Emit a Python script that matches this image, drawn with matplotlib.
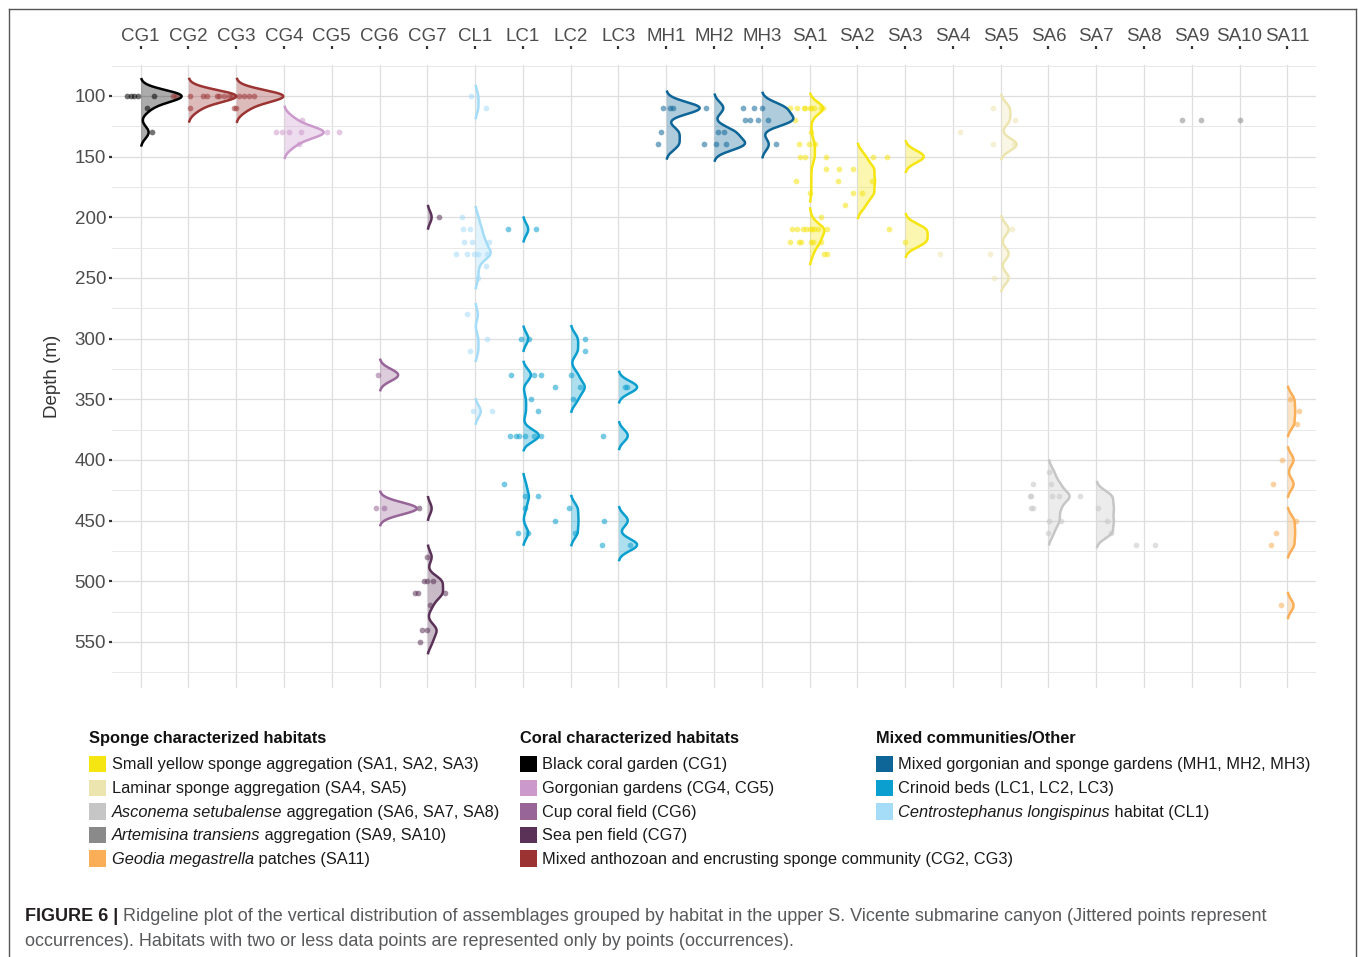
import numpy as np
import matplotlib
matplotlib.use("Agg")
import matplotlib.pyplot as plt
from matplotlib.patches import Rectangle
from matplotlib.lines import Line2D

# ---------------- data ----------------
categories = ["CG1", "CG2", "CG3", "CG4", "CG5", "CG6", "CG7", "CL1", "LC1", "LC2", "LC3",
              "MH1", "MH2", "MH3", "SA1", "SA2", "SA3", "SA4", "SA5", "SA6", "SA7", "SA8",
              "SA9", "SA10", "SA11"]

# depths (m) of occurrences per assemblage, and horizontal jitter
depth_CG1 = [100, 100, 100, 100, 100, 110, 130]
jit_CG1 = [-0.29, -0.21, -0.15, -0.06, 0.27, 0.13, 0.23]
depth_CG2 = [100, 100, 100, 100, 100, 110]
jit_CG2 = [-0.33, -0.27, 0.04, 0.31, 0.38, 0.04]
depth_CG3 = [100, 100, 100, 100, 100, 100, 100, 100, 100, 110, 110]
jit_CG3 = [-0.40, -0.36, -0.25, -0.15, -0.08, 0.06, 0.17, 0.27, 0.38, -0.04, 0.0]
depth_CG4 = [120, 130, 130, 130, 130, 140]
jit_CG4 = [0.38, -0.17, -0.04, 0.10, 0.36, 0.31]
depth_CG5 = [130, 130]
jit_CG5 = [-0.10, 0.15]
depth_CG6 = [330, 440, 440]
jit_CG6 = [-0.04, -0.07, 0.10]
depth_CG7 = [200, 440, 480, 500, 500, 500, 510, 510, 510, 520, 540, 540, 550]
jit_CG7 = [0.24, -0.17, 0.0, -0.08, -0.01, 0.11, -0.25, -0.20, 0.38, 0.06, -0.11, -0.01, -0.15]
depth_CL1 = [100, 110, 200, 210, 210, 220, 220, 220, 230, 230, 230, 230, 230, 240, 250,
             280, 300, 310, 360, 360]
jit_CL1 = [-0.09, 0.22, -0.27, -0.25, -0.11, -0.24, -0.07, 0.30, -0.40, -0.18, -0.02, 0.05,
           0.24, 0.23, 0.05, -0.18, 0.24, -0.10, -0.05, 0.36]
depth_LC1 = [210, 210, 300, 300, 330, 330, 330, 350, 360, 380, 380, 380, 380, 380, 380,
             420, 430, 430, 440, 460, 460]
jit_LC1 = [-0.31, 0.27, -0.05, 0.13, -0.24, 0.23, 0.38, 0.18, 0.31, -0.27, -0.15, -0.08,
           0.05, 0.24, 0.38, -0.40, 0.04, 0.32, 0.04, -0.11, 0.10]
depth_LC2 = [300, 310, 330, 340, 340, 350, 440, 450, 460]
jit_LC2 = [0.29, 0.31, 0.01, -0.32, 0.20, 0.05, -0.04, -0.32, 0.10]
depth_LC3 = [340, 340, 380, 450, 470, 470]
jit_LC3 = [0.13, 0.18, -0.33, -0.31, -0.35, 0.24]
depth_MH1 = [110, 110, 110, 130, 140]
jit_MH1 = [-0.06, 0.08, 0.15, -0.10, -0.18]
depth_MH2 = [110, 130, 130, 140, 140, 140]
jit_MH2 = [-0.17, 0.09, 0.21, -0.21, 0.04, 0.25]
depth_MH3 = [110, 110, 110, 120, 120, 120, 120, 140]
jit_MH3 = [-0.40, -0.17, 0.01, -0.35, -0.24, -0.08, 0.13, 0.30]
depth_SA1 = [110, 110, 110, 110, 110, 110, 110, 110, 110, 120, 130, 140, 140, 140,
             150, 150, 150, 160, 170, 180, 200, 210, 210, 210, 210, 210, 210, 210, 210,
             210, 220, 220, 220, 220, 220, 220, 230, 230]
jit_SA1 = [-0.40, -0.26, -0.11, -0.09, 0.04, 0.10, 0.23, 0.29, 0.0, -0.30, 0.04, -0.23,
           -0.02, 0.12, -0.21, -0.10, 0.35, 0.35, -0.29, 0.0, 0.24, -0.37, -0.27,
           -0.13, -0.07, 0.05, 0.17, 0.36, 0.0, 0.10, -0.40, -0.23, -0.18, 0.02, 0.24,
           0.08, 0.36, 0.31]
depth_SA2 = [150, 160, 160, 170, 170, 180, 180, 190]
jit_SA2 = [0.33, -0.38, -0.10, -0.40, 0.30, 0.09, -0.10, -0.25]
depth_SA3 = [150, 210, 220]
jit_SA3 = [-0.38, -0.33, 0.0]
depth_SA4 = [130, 230]
jit_SA4 = [0.14, -0.26]
depth_SA5 = [110, 120, 140, 140, 210, 230, 250]
jit_SA5 = [-0.17, 0.31, -0.16, 0.28, 0.24, -0.22, -0.13]
depth_SA6 = [410, 420, 420, 430, 430, 430, 430, 440, 440, 450, 450, 460]
jit_SA6 = [0.01, -0.33, 0.05, -0.39, -0.37, 0.07, 0.23, -0.37, -0.33, 0.02, 0.27, 0.0]
depth_SA7 = [430, 440, 450, 460]
jit_SA7 = [-0.34, 0.04, 0.23, 0.31]
depth_SA8 = [470, 470]
jit_SA8 = [-0.16, 0.22]
depth_SA9 = [120, 120]
jit_SA9 = [-0.20, 0.20]
depth_SA10 = [120]
jit_SA10 = [0.0]
depth_SA11 = [350, 360, 370, 400, 420, 450, 460, 470, 520]
jit_SA11 = [0.06, 0.25, 0.21, -0.11, -0.29, 0.18, -0.24, -0.35, -0.13]

depth_ticks = [100, 150, 200, 250, 300, 350, 400, 450, 500, 550]

# habitats: legend groups
sponge_labels = [
    [("Small yellow sponge aggregation (SA1, SA2, SA3)", "normal")],
    [("Laminar sponge aggregation (SA4, SA5)", "normal")],
    [("Asconema setubalense", "italic"), (" aggregation (SA6, SA7, SA8)", "normal")],
    [("Artemisina transiens", "italic"), (" aggregation (SA9, SA10)", "normal")],
    [("Geodia megastrella", "italic"), (" patches (SA11)", "normal")],
]
sponge_colors = ["#F5E511", "#EDE5B0", "#C6C6C6", "#8A8A8A", "#F9AE57"]
coral_labels = [
    [("Black coral garden (CG1)", "normal")],
    [("Gorgonian gardens (CG4, CG5)", "normal")],
    [("Cup coral field (CG6)", "normal")],
    [("Sea pen field (CG7)", "normal")],
    [("Mixed anthozoan and encrusting sponge community (CG2, CG3)", "normal")],
]
coral_colors = ["#000000", "#CC99CC", "#976597", "#5A3257", "#9C3333"]
mixed_labels = [
    [("Mixed gorgonian and sponge gardens (MH1, MH2, MH3)", "normal")],
    [("Crinoid beds (LC1, LC2, LC3)", "normal")],
    [("Centrostephanus longispinus", "italic"), (" habitat (CL1)", "normal")],
]
mixed_colors = ["#0E6597", "#0A9FCF", "#A5DCF8"]

cat_color = {
    "CG1": coral_colors[0], "CG2": coral_colors[4], "CG3": coral_colors[4],
    "CG4": coral_colors[1], "CG5": coral_colors[1], "CG6": coral_colors[2],
    "CG7": coral_colors[3], "CL1": mixed_colors[2],
    "LC1": mixed_colors[1], "LC2": mixed_colors[1], "LC3": mixed_colors[1],
    "MH1": mixed_colors[0], "MH2": mixed_colors[0], "MH3": mixed_colors[0],
    "SA1": sponge_colors[0], "SA2": sponge_colors[0], "SA3": sponge_colors[0],
    "SA4": sponge_colors[1], "SA5": sponge_colors[1],
    "SA6": sponge_colors[2], "SA7": sponge_colors[2], "SA8": sponge_colors[2],
    "SA9": sponge_colors[3], "SA10": sponge_colors[3], "SA11": sponge_colors[4],
}

g = globals()
depths = {c: g["depth_" + c] for c in categories}
jitters = {c: g["jit_" + c] for c in categories}

# ---------------- figure ----------------
W, H = 1358, 957
DPI = 100
plt.rcParams["font.family"] = ["Liberation Sans", "DejaVu Sans"]
fig = plt.figure(figsize=(W / DPI, H / DPI), dpi=DPI)
fig.patch.set_facecolor("white")

def fx(x):
    return x / W

def fy(y):
    return 1 - y / H

# panel: x 112..1316, y 65..688 (pixels)
ax = fig.add_axes([fx(112), fy(688), fx(1316) - fx(112), fy(65) - fy(688)])
ax.set_facecolor("white")
ax.set_xlim(-0.6, len(categories) - 1 + 0.6)
ax.set_ylim(588, 74.5)

for s in ax.spines.values():
    s.set_visible(False)
ax.spines["top"].set_position(("outward", 11.5))

ax.set_xticks(range(len(categories)))
ax.set_xticklabels(categories)
ax.xaxis.tick_top()
ax.set_yticks(depth_ticks)
ax.set_yticks(np.arange(75, 600, 50), minor=True)
ax.tick_params(axis="x", which="major", length=2.3, width=1.6, color="#333333",
               labelsize=13.5, labelcolor="#4D4D4D", pad=0.6)
ax.tick_params(axis="y", which="major", length=2.2, width=1.6, color="#333333",
               labelsize=13.5, labelcolor="#4D4D4D", pad=2)
ax.tick_params(axis="y", which="minor", length=0)
ax.grid(True, which="major", color="#DEDEDE", lw=0.9)
ax.grid(True, which="minor", axis="y", color="#E8E8E8", lw=0.7)
ax.set_axisbelow(True)
ax.set_ylabel("Depth (m)", fontsize=13.5, color="#333333", labelpad=10)

# ---------------- ridgelines (Gaussian KDE, joint bandwidth) ----------------
BW = 5.0
REL_MIN = 0.01
HEIGHT = 1.0
grid = np.linspace(60, 600, 2161)

def kde(vals):
    v = np.asarray(vals, float)
    z = (grid[:, None] - v[None, :]) / BW
    return np.exp(-0.5 * z ** 2).sum(axis=1) / (len(v) * BW * np.sqrt(2 * np.pi))

dens = {c: kde(depths[c]) for c in categories if len(depths[c]) >= 3}
gmax = max(d.max() for d in dens.values())

def runs(mask):
    idx = np.flatnonzero(mask)
    if idx.size == 0:
        return []
    breaks = np.flatnonzero(np.diff(idx) > 1)
    starts = np.r_[idx[0], idx[breaks + 1]]
    ends = np.r_[idx[breaks], idx[-1]]
    return list(zip(starts, ends))

for i, c in enumerate(categories):
    col = cat_color[c]
    if c in dens:
        h = dens[c] / gmax * HEIGHT
        for a, b in runs(dens[c] >= REL_MIN * gmax):
            yy = grid[a:b + 1]
            xx = i + h[a:b + 1]
            ax.fill_betweenx(yy, i, xx, color=col, alpha=0.33, lw=0, zorder=2)

for i, c in enumerate(categories):
    col = cat_color[c]
    xs = i + np.asarray(jitters[c])
    ax.scatter(xs, depths[c], s=17, color=col, alpha=0.55, lw=0, zorder=3)

for i, c in enumerate(categories):
    col = cat_color[c]
    if c in dens:
        h = dens[c] / gmax * HEIGHT
        for a, b in runs(dens[c] >= REL_MIN * gmax):
            yy = grid[a:b + 1]
            xx = i + h[a:b + 1]
            ax.plot(xx, yy, color=col, lw=1.8, zorder=4, solid_capstyle="butt")

# ---------------- legend & caption ----------------
fig.canvas.draw()
renderer = fig.canvas.get_renderer()

def text_width(s, size, style="normal", weight="normal"):
    t = fig.text(0, 0, "|" + s + "|", fontsize=size, style=style, weight=weight)
    t2 = fig.text(0, 0, "||", fontsize=size, style=style, weight=weight)
    w = t.get_window_extent(renderer).width - t2.get_window_extent(renderer).width
    t.remove()
    t2.remove()
    return w

def fit_size(s, target, style="normal", weight="normal"):
    return 10.0 * target / text_width(s, 10.0, style, weight)

item_size = fit_size("Small yellow sponge aggregation (SA1, SA2, SA3)", 367)
head_size = fit_size("Sponge characterized habitats", 238, weight="bold")

columns = [
    (89, "Sponge characterized habitats", sponge_labels, sponge_colors),
    (520, "Coral characterized habitats", coral_labels, coral_colors),
    (876, "Mixed communities/Other", mixed_labels, mixed_colors),
]
row_y = [764, 788, 811.5, 835, 858.5]
for x0, head, labels, cols in columns:
    fig.text(fx(x0), fy(743), head, fontsize=head_size, weight="bold", color="#111111",
             ha="left", va="baseline")
    for k, (lab, colr) in enumerate(zip(labels, cols)):
        yc = row_y[k]
        fig.patches.append(Rectangle((fx(x0), fy(yc + 8.3)), fx(16.7), 16.7 / H,
                                     transform=fig.transFigure, facecolor=colr,
                                     edgecolor="none"))
        x = x0 + 22.5
        for s, style in lab:
            fig.text(fx(x), fy(yc + 5.2), s, fontsize=item_size, style=style,
                     color="#1A1A1A", ha="left", va="baseline")
            x += text_width(s, item_size, style)

cap1_bold = "FIGURE 6 | "
cap1_rest = ("Ridgeline plot of the vertical distribution of assemblages grouped by habitat "
             "in the upper S. Vicente submarine canyon (Jittered points represent")
cap2 = "occurrences). Habitats with two or less data points are represented only by points (occurrences)."
w_bold10 = text_width(cap1_bold, 10, weight="bold")
w_rest10 = text_width(cap1_rest, 10)
cap_size = 10.0 * 1247 / (w_bold10 + w_rest10)
fig.text(fx(25), fy(921), cap1_bold, fontsize=cap_size, weight="bold", color="#231F20",
         ha="left", va="baseline")
fig.text(fx(25 + w_bold10 * cap_size / 10), fy(921), cap1_rest, fontsize=cap_size,
         color="#58595B", ha="left", va="baseline")
fig.text(fx(25), fy(946), cap2, fontsize=cap_size, color="#58595B", ha="left",
         va="baseline")

# frame around the figure
frame_kw = dict(transform=fig.transFigure, color="#555555", lw=1.0)
fig.lines.append(Line2D([fx(8.5), fx(8.5)], [fy(8.5), 0], **frame_kw))
fig.lines.append(Line2D([fx(8.5), fx(1355.5)], [fy(8.5), fy(8.5)], **frame_kw))
fig.lines.append(Line2D([fx(1355.5), fx(1355.5)], [fy(8.5), 0], **frame_kw))

fig.savefig("out.png", dpi=DPI, facecolor="white")
